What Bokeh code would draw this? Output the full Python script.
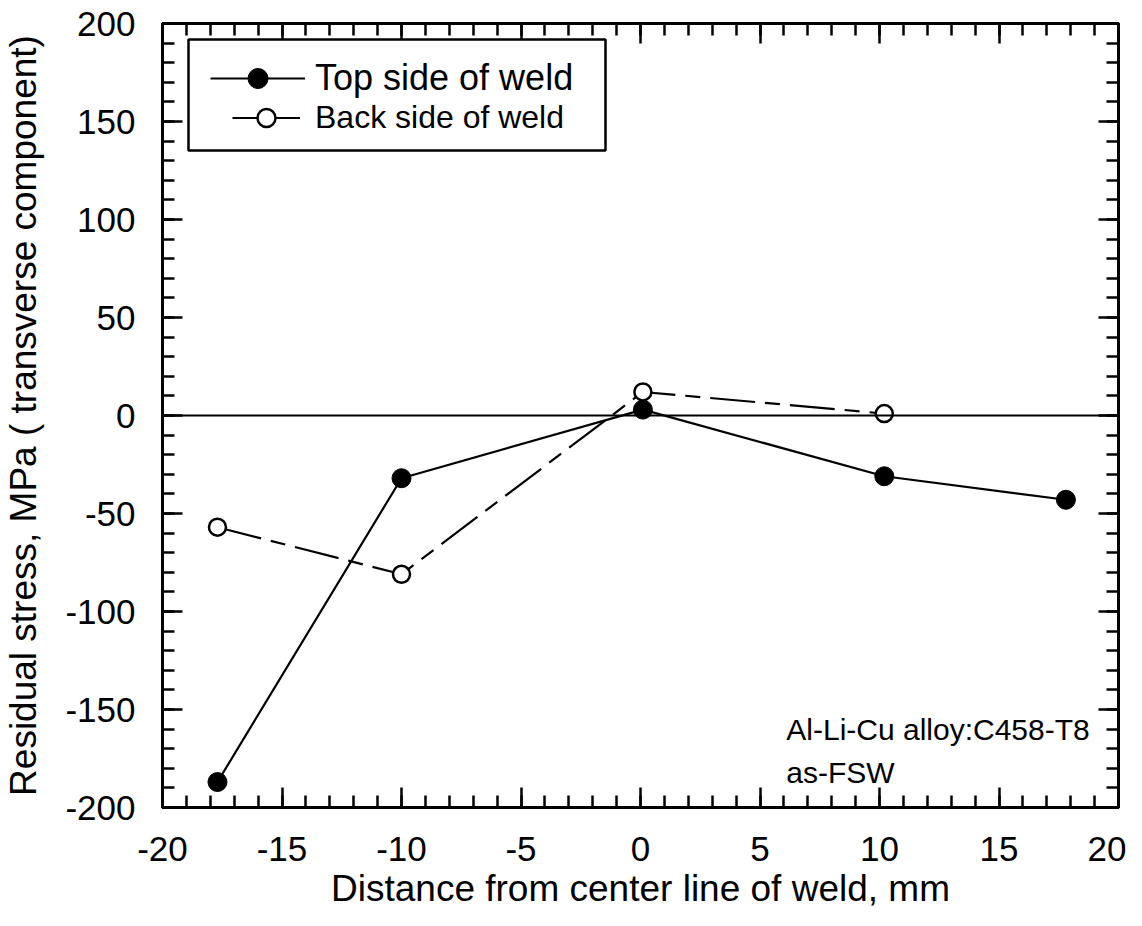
from bokeh.plotting import figure
from bokeh.models import (Range1d, SingleIntervalTicker, LinearAxis, Span, Legend,
                          LegendItem, Label, BoxAnnotation, PrintfTickFormatter)
from bokeh.embed import file_html
from bokeh.resources import INLINE

# ---- data ----
top_x = [-17.7, -10.0, 0.1, 10.2, 17.8]
top_y = [-187, -32, 3, -31, -43]
back_x = [-17.7, -10.0, 0.1, 10.2]
back_y = [-57, -81, 12, 1]
top_label = "Top side of weld"
back_label = "Back side of weld"
x_title = "Distance from center line of weld, mm"
y_title = "Residual stress, MPa ( transverse component)"
note_lines = ["Al-Li-Cu alloy:C458-T8", "as-FSW"]

FONT = "Liberation Sans"

p = figure(width=1126, height=918,
           x_range=Range1d(-20, 20), y_range=Range1d(-200, 200),
           output_backend="svg", toolbar_location=None,
           min_border_left=157, min_border_right=8,
           min_border_top=23, min_border_bottom=111)
p.grid.visible = False
p.outline_line_color = "black"
p.outline_line_width = 3
p.background_fill_color = "white"
p.border_fill_color = "white"


def style_axis(ax, labels=True):
    ax.axis_line_color = "black"
    ax.axis_line_width = 3
    ax.major_tick_in = 20
    ax.major_tick_out = 0
    ax.minor_tick_in = 12
    ax.minor_tick_out = 0
    ax.major_tick_line_color = "black"
    ax.minor_tick_line_color = "black"
    ax.major_tick_line_width = 2.5
    ax.minor_tick_line_width = 2.5
    ax.major_label_text_font = FONT
    ax.formatter = PrintfTickFormatter(format="%d")
    if labels:
        ax.major_label_text_color = "black"
        ax.major_label_text_font_size = "35px"
    else:
        ax.major_label_text_color = None
        ax.major_label_text_font_size = "1px"
        ax.major_label_standoff = 0
    ax.axis_label_text_font = FONT
    ax.axis_label_text_font_style = "normal"
    ax.axis_label_text_color = "black"
    ax.axis_label_text_font_size = "37px"


xt = SingleIntervalTicker(interval=5, num_minor_ticks=5)
yt = SingleIntervalTicker(interval=50, num_minor_ticks=5)

p.xaxis.ticker = xt
p.yaxis.ticker = yt
for ax in p.xaxis + p.yaxis:
    style_axis(ax)
p.xaxis.axis_label = x_title
p.yaxis.axis_label = y_title
p.xaxis.major_label_standoff = 29
p.yaxis.major_label_standoff = 27
p.xaxis.axis_label_standoff = 4
p.yaxis.axis_label_standoff = 18

ax_r = LinearAxis(ticker=yt)
ax_t = LinearAxis(ticker=xt)
style_axis(ax_r, labels=False)
style_axis(ax_t, labels=False)
p.add_layout(ax_r, "right")
p.add_layout(ax_t, "above")

# ---- data series ----
r_top_line = p.line(top_x, top_y, line_color="black", line_width=2.2)
r_back_line = p.line(back_x, back_y, line_color="black", line_width=2.2,
                     line_dash="45 10 15 10")
r_top_pts = p.scatter(top_x, top_y, marker="circle", size=19,
                      fill_color="black", line_color="black", line_width=1)
r_back_pts = p.scatter(back_x, back_y, marker="circle", size=17,
                       fill_color="white", line_color="black", line_width=2.5)
# solid key line for the legend entry of the back side (a single point draws nothing)
r_back_key = p.line(x=back_x[:1], y=back_y[:1], line_color="black", line_width=2.2)

p.add_layout(Span(location=0, dimension="width", line_color="black", line_width=2.2))

# ---- legend ----
box = BoxAnnotation(left=26, right=443, bottom=657, top=768,
                    left_units="screen", right_units="screen",
                    top_units="screen", bottom_units="screen",
                    fill_color="white", fill_alpha=1.0,
                    line_color="black", line_width=2.5, line_alpha=1.0,
                    line_dash="solid")
p.add_layout(box)

leg_top = Legend(items=[LegendItem(label=top_label, renderers=[r_top_line, r_top_pts])],
                 location=(48, 704), glyph_width=95, glyph_height=50,
                 label_standoff=10, label_text_font=FONT, label_text_font_size="36px",
                 label_text_color="black",
                 padding=0, margin=0, spacing=0, border_line_color=None,
                 background_fill_alpha=0)
leg_back = Legend(items=[LegendItem(label=back_label, renderers=[r_back_key, r_back_pts])],
                  location=(70, 667), glyph_width=68, glyph_height=45,
                  label_standoff=15, label_text_font=FONT, label_text_font_size="32px",
                  label_text_color="black",
                  padding=0, margin=0, spacing=0, border_line_color=None,
                  background_fill_alpha=0)
p.add_layout(leg_top)
p.add_layout(leg_back)

# ---- note ----
note_y = [-160, -182]
for txt, yy in zip(note_lines, note_y):
    p.add_layout(Label(x=6.1, y=yy, text=txt, text_font=FONT, text_font_size="30px",
                       text_color="black", text_baseline="alphabetic"))

open("out.html", "w").write(file_html(p, INLINE))
